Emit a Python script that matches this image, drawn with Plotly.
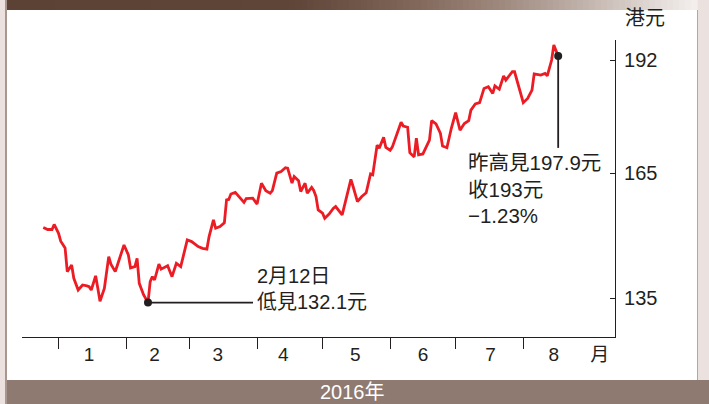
import plotly.graph_objects as go

# ---------------- data ----------------
dates = [
    "2015-12-25", "2015-12-27", "2015-12-29", "2015-12-30", "2016-01-01", "2016-01-02",
    "2016-01-04", "2016-01-05", "2016-01-07", "2016-01-08", "2016-01-10", "2016-01-12",
    "2016-01-14", "2016-01-15", "2016-01-16", "2016-01-18", "2016-01-19", "2016-01-20",
    "2016-01-22", "2016-01-24", "2016-01-25", "2016-01-27", "2016-01-28", "2016-01-31",
    "2016-02-02", "2016-02-03", "2016-02-05", "2016-02-06", "2016-02-07", "2016-02-09",
    "2016-02-11", "2016-02-12", "2016-02-13", "2016-02-14", "2016-02-16", "2016-02-17",
    "2016-02-20", "2016-02-22", "2016-02-24", "2016-02-26", "2016-02-29", "2016-03-02",
    "2016-03-05", "2016-03-07", "2016-03-09", "2016-03-10", "2016-03-12", "2016-03-13",
    "2016-03-15", "2016-03-17", "2016-03-18", "2016-03-19", "2016-03-20", "2016-03-22",
    "2016-03-24", "2016-03-26", "2016-03-27", "2016-03-30", "2016-04-01", "2016-04-02",
    "2016-04-03", "2016-04-05", "2016-04-07", "2016-04-08", "2016-04-10", "2016-04-12",
    "2016-04-14", "2016-04-15", "2016-04-17", "2016-04-18", "2016-04-20", "2016-04-21",
    "2016-04-23", "2016-04-24", "2016-04-26", "2016-04-27", "2016-04-28", "2016-04-29",
    "2016-05-01", "2016-05-02", "2016-05-04", "2016-05-06", "2016-05-07", "2016-05-10",
    "2016-05-12", "2016-05-14", "2016-05-15", "2016-05-17", "2016-05-19", "2016-05-21",
    "2016-05-23", "2016-05-24", "2016-05-26", "2016-05-27", "2016-05-29", "2016-05-30",
    "2016-06-01", "2016-06-02", "2016-06-06", "2016-06-07", "2016-06-09", "2016-06-10",
    "2016-06-12", "2016-06-13", "2016-06-14", "2016-06-16", "2016-06-19", "2016-06-20",
    "2016-06-22", "2016-06-24", "2016-06-25", "2016-06-27", "2016-06-29", "2016-07-01",
    "2016-07-03", "2016-07-05", "2016-07-07", "2016-07-08", "2016-07-10", "2016-07-12",
    "2016-07-14", "2016-07-16", "2016-07-18", "2016-07-19", "2016-07-21", "2016-07-23",
    "2016-07-24", "2016-07-27", "2016-07-28", "2016-08-01", "2016-08-03", "2016-08-05",
    "2016-08-06", "2016-08-09", "2016-08-11", "2016-08-12", "2016-08-14", "2016-08-15",
    "2016-08-17",
]
prices = [
    152.0, 151.5, 151.5, 152.7, 150.6, 148.7,
    147.1, 141.4, 143.0, 139.8, 137.0, 138.2,
    138.0, 137.8, 137.0, 140.4, 137.4, 134.3,
    137.4, 145.0, 143.2, 141.4, 143.0, 147.8,
    145.4, 142.3, 142.6, 144.6, 138.6, 135.8,
    134.0, 139.0, 140.2, 139.4, 143.2, 142.0,
    142.8, 140.2, 143.4, 142.6, 149.0, 148.6,
    147.4, 147.0, 146.8, 149.8, 153.8, 151.8,
    152.2, 153.1, 158.6, 158.7, 160.0, 160.4,
    159.2, 158.0, 158.9, 159.0, 157.6, 160.2,
    162.6, 160.8, 160.2, 160.8, 165.0, 165.4,
    166.3, 166.2, 162.6, 164.2, 163.2, 160.6,
    162.6, 160.2, 161.6, 160.8, 159.4, 156.2,
    155.4, 154.2, 155.2, 156.6, 157.0, 155.0,
    159.4, 163.5, 161.8, 158.2, 159.4, 160.3,
    164.8, 164.6, 171.7, 171.0, 173.6, 171.2,
    170.5, 171.3, 177.2, 176.3, 176.0, 169.9,
    168.9, 173.4, 169.4, 169.6, 172.9, 177.6,
    176.8, 174.6, 171.5, 171.1, 175.7, 179.5,
    175.3, 176.9, 177.6, 180.1, 181.6, 181.9,
    185.3, 185.7, 184.1, 185.9, 185.1, 188.3,
    187.3, 189.3, 189.3, 181.9, 182.9, 184.9,
    188.8, 188.5, 188.9, 188.3, 192.1, 195.7,
    193.1,
]

month_starts = ["2016-01-01", "2016-02-01", "2016-03-01", "2016-04-01",
                "2016-05-01", "2016-06-01", "2016-07-01", "2016-08-01"]
month_label_pos = ["2016-01-15", "2016-02-14", "2016-03-14", "2016-04-13",
                   "2016-05-16", "2016-06-16", "2016-07-17", "2016-08-15", "2016-09-05"]
month_labels = ["1", "2", "3", "4", "5", "6", "7", "8", "月"]

y_ticks = [135, 165, 192]
y_tick_labels = ["135", "165", "192"]

low_text = "2月12日<br>低見132.1元"
high_text = "昨高見197.9元<br>收193元<br>−1.23%"
unit_text = "港元"
year_text = "2016年"

# ---------------- layout geometry ----------------
FW, FH = 709, 404
L, R, T, B = 22, 94, 40, 67
PW, PH = FW - L - R, FH - T - B

def px(x):
    return (x - L) / PW

def py(y):
    return (FH - B - y) / PH

FONT = "Liberation Sans, Arial, Noto Sans CJK TC, sans-serif"
INK = "#231f20"
RED = "#ec1c24"

fig = go.Figure()

fig.add_trace(go.Scatter(
    x=dates, y=prices, mode="lines",
    line=dict(color=RED, width=2.8),
    hoverinfo="skip", showlegend=False,
))

low_i = min(range(len(prices)), key=lambda i: prices[i])
last_i = len(prices) - 1
fig.add_trace(go.Scatter(
    x=[dates[low_i], dates[last_i]], y=[prices[low_i], prices[last_i]],
    mode="markers", marker=dict(color=INK, size=8),
    hoverinfo="skip", showlegend=False,
))

shapes = []
# background panel
shapes.append(dict(type="rect", xref="paper", yref="paper", layer="below",
                   x0=px(7), x1=px(697), y0=py(380), y1=py(10),
                   fillcolor="white", line=dict(width=0)))
# left frame line
shapes.append(dict(type="rect", xref="paper", yref="paper", layer="below",
                   x0=px(5), x1=px(7), y0=py(404), y1=py(0),
                   fillcolor="#a8968f", line=dict(width=0)))
# right frame line
shapes.append(dict(type="rect", xref="paper", yref="paper", layer="below",
                   x0=px(697), x1=px(698), y0=py(404), y1=py(10),
                   fillcolor="#b3a7a2", line=dict(width=0)))
# bottom bar
shapes.append(dict(type="rect", xref="paper", yref="paper", layer="below",
                   x0=px(7), x1=px(709), y0=py(404), y1=py(380),
                   fillcolor="#8e7a71", line=dict(width=0)))

# top gradient bar
stops = [(7, (92, 66, 53)), (290, (95, 69, 56)), (350, (110, 84, 71)),
         (420, (131, 105, 92)), (500, (158, 136, 125)), (575, (188, 174, 166)),
         (640, (219, 210, 205)), (697, (244, 240, 238))]

def grad(xp):
    for (x0, c0), (x1, c1) in zip(stops[:-1], stops[1:]):
        if x0 <= xp <= x1:
            t = (xp - x0) / (x1 - x0)
            return tuple(int(round(a + (b - a) * t)) for a, b in zip(c0, c1))
    return stops[-1][1]

step = 6
xp = 7
while xp < 697:
    x_end = min(xp + step, 697)
    c = grad((xp + x_end) / 2)
    shapes.append(dict(type="rect", xref="paper", yref="paper", layer="below",
                       x0=px(xp), x1=px(x_end + 0.6), y0=py(10), y1=py(0),
                       fillcolor="rgb(%d,%d,%d)" % c, line=dict(width=0)))
    xp = x_end

# pointer lines
shapes.append(dict(type="line", xref="x", yref="y", xsizemode="pixel",
                   xanchor=dates[low_i], x0=0, x1=105,
                   y0=prices[low_i], y1=prices[low_i],
                   line=dict(color=INK, width=1.8)))
shapes.append(dict(type="line", xref="x", yref="y", ysizemode="pixel",
                   yanchor=prices[last_i], y0=0, y1=-92,
                   x0=dates[last_i], x1=dates[last_i],
                   line=dict(color=INK, width=1.8)))

annotations = [
    dict(text=unit_text, xref="paper", yref="paper", x=px(645), y=py(18),
         xanchor="center", yanchor="middle",
         showarrow=False, font=dict(size=20, color=INK, family=FONT)),
    dict(text=year_text, xref="paper", yref="paper", x=px(352), y=py(392),
         xanchor="center", yanchor="middle",
         showarrow=False, font=dict(size=20, color="white", family=FONT)),
    dict(text=low_text, xref="x", yref="y", x=dates[low_i], y=prices[low_i],
         xanchor="left", yanchor="bottom", xshift=107, yshift=-12, align="left",
         showarrow=False, font=dict(size=20, color=INK, family=FONT)),
    dict(text=high_text, xref="x", yref="y", x=dates[last_i], y=prices[last_i],
         xanchor="left", yanchor="top", xshift=-92, yshift=-93, align="left",
         showarrow=False, font=dict(size=20.5, color=INK, family=FONT)),
]

fig.update_layout(
    width=FW, height=FH,
    margin=dict(l=L, r=R, t=T, b=B),
    paper_bgcolor="#ebe2df", plot_bgcolor="rgba(0,0,0,0)",
    shapes=shapes, annotations=annotations, showlegend=False,
    xaxis=dict(
        type="date", range=["2015-12-15 06:00", "2016-09-12 01:00"],
        tickmode="array", tickvals=month_label_pos, ticktext=month_labels,
        ticks="", showgrid=False, zeroline=False,
        showline=True, linecolor=INK, linewidth=1.2,
        tickfont=dict(size=19, color=INK, family=FONT),
        ticklabelstandoff=0,
        minor=dict(tickmode="array", tickvals=month_starts, ticks="outside",
                   ticklen=11, tickwidth=1.2, tickcolor=INK, showgrid=False),
    ),
    yaxis=dict(
        range=[125.74, 196.91], side="right",
        tickmode="array", tickvals=y_ticks, ticktext=y_tick_labels,
        ticks="inside", ticklen=5, tickwidth=1.2, tickcolor=INK,
        showgrid=False, zeroline=False,
        showline=True, linecolor=INK, linewidth=1.2,
        tickfont=dict(size=20, color=INK, family=FONT),
        ticklabelstandoff=4,
    ),
)

fig.write_html("out.html")
